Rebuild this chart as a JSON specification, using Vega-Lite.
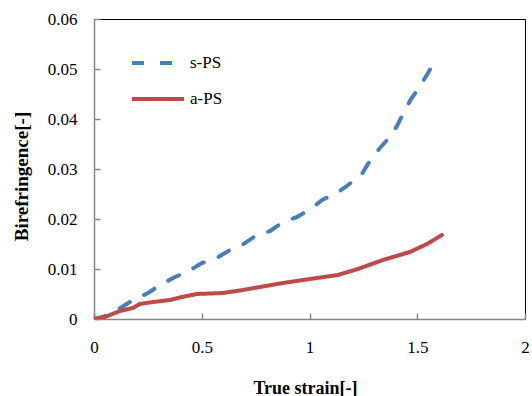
{
  "$schema": "https://vega.github.io/schema/vega-lite/v6.json",
  "width": 431,
  "height": 300,
  "autosize": {"type": "none"},
  "padding": {"left": 94, "top": 19, "right": 7, "bottom": 77},
  "background": "white",
  "config": {
    "font": "Liberation Serif",
    "view": {"stroke": "#000000", "strokeWidth": 1},
    "text": {"font": "Liberation Serif"},
    "axis": {
      "grid": false,
      "domainColor": "#868686",
      "domainWidth": 1.5,
      "tickColor": "#868686",
      "tickWidth": 1.5,
      "tickSize": -6,
      "labelFlush": false,
      "labelFont": "Liberation Serif",
      "labelFontSize": 17,
      "labelColor": "#000000",
      "titleFont": "Liberation Serif",
      "titleFontWeight": "bold",
      "titleColor": "#000000"
    }
  },
  "data": {
    "values": [
      {"series": "s-PS", "strain": 0.0, "bir": 0.0},
      {"series": "s-PS", "strain": 0.042, "bir": 0.0004},
      {"series": "s-PS", "strain": 0.13, "bir": 0.0024},
      {"series": "s-PS", "strain": 0.181, "bir": 0.0038},
      {"series": "s-PS", "strain": 0.251, "bir": 0.0052},
      {"series": "s-PS", "strain": 0.306, "bir": 0.0068},
      {"series": "s-PS", "strain": 0.376, "bir": 0.0084},
      {"series": "s-PS", "strain": 0.432, "bir": 0.0094},
      {"series": "s-PS", "strain": 0.501, "bir": 0.0112},
      {"series": "s-PS", "strain": 0.561, "bir": 0.012},
      {"series": "s-PS", "strain": 0.631, "bir": 0.0138},
      {"series": "s-PS", "strain": 0.687, "bir": 0.0148},
      {"series": "s-PS", "strain": 0.756, "bir": 0.0168},
      {"series": "s-PS", "strain": 0.817, "bir": 0.0176},
      {"series": "s-PS", "strain": 0.877, "bir": 0.0194},
      {"series": "s-PS", "strain": 0.942, "bir": 0.0204},
      {"series": "s-PS", "strain": 1.012, "bir": 0.0222},
      {"series": "s-PS", "strain": 1.058, "bir": 0.0238},
      {"series": "s-PS", "strain": 1.128, "bir": 0.0252},
      {"series": "s-PS", "strain": 1.179, "bir": 0.0268},
      {"series": "s-PS", "strain": 1.244, "bir": 0.029},
      {"series": "s-PS", "strain": 1.271, "bir": 0.031},
      {"series": "s-PS", "strain": 1.323, "bir": 0.034},
      {"series": "s-PS", "strain": 1.364, "bir": 0.036},
      {"series": "s-PS", "strain": 1.406, "bir": 0.0386},
      {"series": "s-PS", "strain": 1.434, "bir": 0.041},
      {"series": "s-PS", "strain": 1.471, "bir": 0.044},
      {"series": "s-PS", "strain": 1.508, "bir": 0.0462},
      {"series": "s-PS", "strain": 1.55, "bir": 0.0492},
      {"series": "s-PS", "strain": 1.578, "bir": 0.0514},
      {"series": "a-PS", "strain": 0.0, "bir": 0.0},
      {"series": "a-PS", "strain": 0.051, "bir": 0.0004},
      {"series": "a-PS", "strain": 0.097, "bir": 0.0012},
      {"series": "a-PS", "strain": 0.121, "bir": 0.0016},
      {"series": "a-PS", "strain": 0.181, "bir": 0.0022},
      {"series": "a-PS", "strain": 0.213, "bir": 0.003},
      {"series": "a-PS", "strain": 0.274, "bir": 0.0034},
      {"series": "a-PS", "strain": 0.353, "bir": 0.0038},
      {"series": "a-PS", "strain": 0.408, "bir": 0.0044},
      {"series": "a-PS", "strain": 0.478, "bir": 0.005},
      {"series": "a-PS", "strain": 0.599, "bir": 0.0052},
      {"series": "a-PS", "strain": 0.691, "bir": 0.0058},
      {"series": "a-PS", "strain": 0.77, "bir": 0.0064},
      {"series": "a-PS", "strain": 0.877, "bir": 0.0072},
      {"series": "a-PS", "strain": 1.002, "bir": 0.008},
      {"series": "a-PS", "strain": 1.132, "bir": 0.0088},
      {"series": "a-PS", "strain": 1.225, "bir": 0.01},
      {"series": "a-PS", "strain": 1.341, "bir": 0.0118},
      {"series": "a-PS", "strain": 1.466, "bir": 0.0134},
      {"series": "a-PS", "strain": 1.545, "bir": 0.015},
      {"series": "a-PS", "strain": 1.615, "bir": 0.0168}
    ]
  },
  "mark": {"type": "line", "strokeWidth": 4, "strokeCap": "round", "strokeJoin": "round", "clip": true},
  "encoding": {
    "x": {
      "field": "strain", "type": "quantitative",
      "scale": {"domain": [0, 2], "nice": false},
      "axis": {"values": [0, 0.5, 1, 1.5, 2], "title": "True strain[-]", "labelPadding": 26, "titlePadding": 24, "titleFontSize": 18, "titleX": 211, "format": "~g",
        "labelFont": "Liberation Serif", "titleFont": "Liberation Serif"}
    },
    "y": {
      "field": "bir", "type": "quantitative",
      "scale": {"domain": [0, 0.06], "nice": false},
      "axis": {"values": [0, 0.01, 0.02, 0.03, 0.04, 0.05, 0.06], "title": "Birefringence[-]", "labelPadding": 23, "titlePadding": 16, "titleFontSize": 19, "titleY": 157, "format": "~g",
        "labelFont": "Liberation Serif", "titleFont": "Liberation Serif"}
    },
    "color": {
      "field": "series", "type": "nominal",
      "scale": {"domain": ["s-PS", "a-PS"], "range": ["#4a7ebb", "#be4b48"]},
      "legend": {
        "title": null, "orient": "none", "legendX": 36, "legendY": 16,
        "symbolType": "stroke", "symbolSize": 2704, "symbolStrokeWidth": 4,
        "labelFont": "Liberation Serif", "labelFontSize": 17, "labelColor": "#000000",
        "rowPadding": -24, "labelOffset": 4
      }
    },
    "strokeDash": {
      "field": "series", "type": "nominal",
      "scale": {"domain": ["s-PS", "a-PS"], "range": [[12, 16], [1, 0]]},
      "legend": null
    },
    "order": {"field": "strain", "type": "quantitative"}
  }
}
